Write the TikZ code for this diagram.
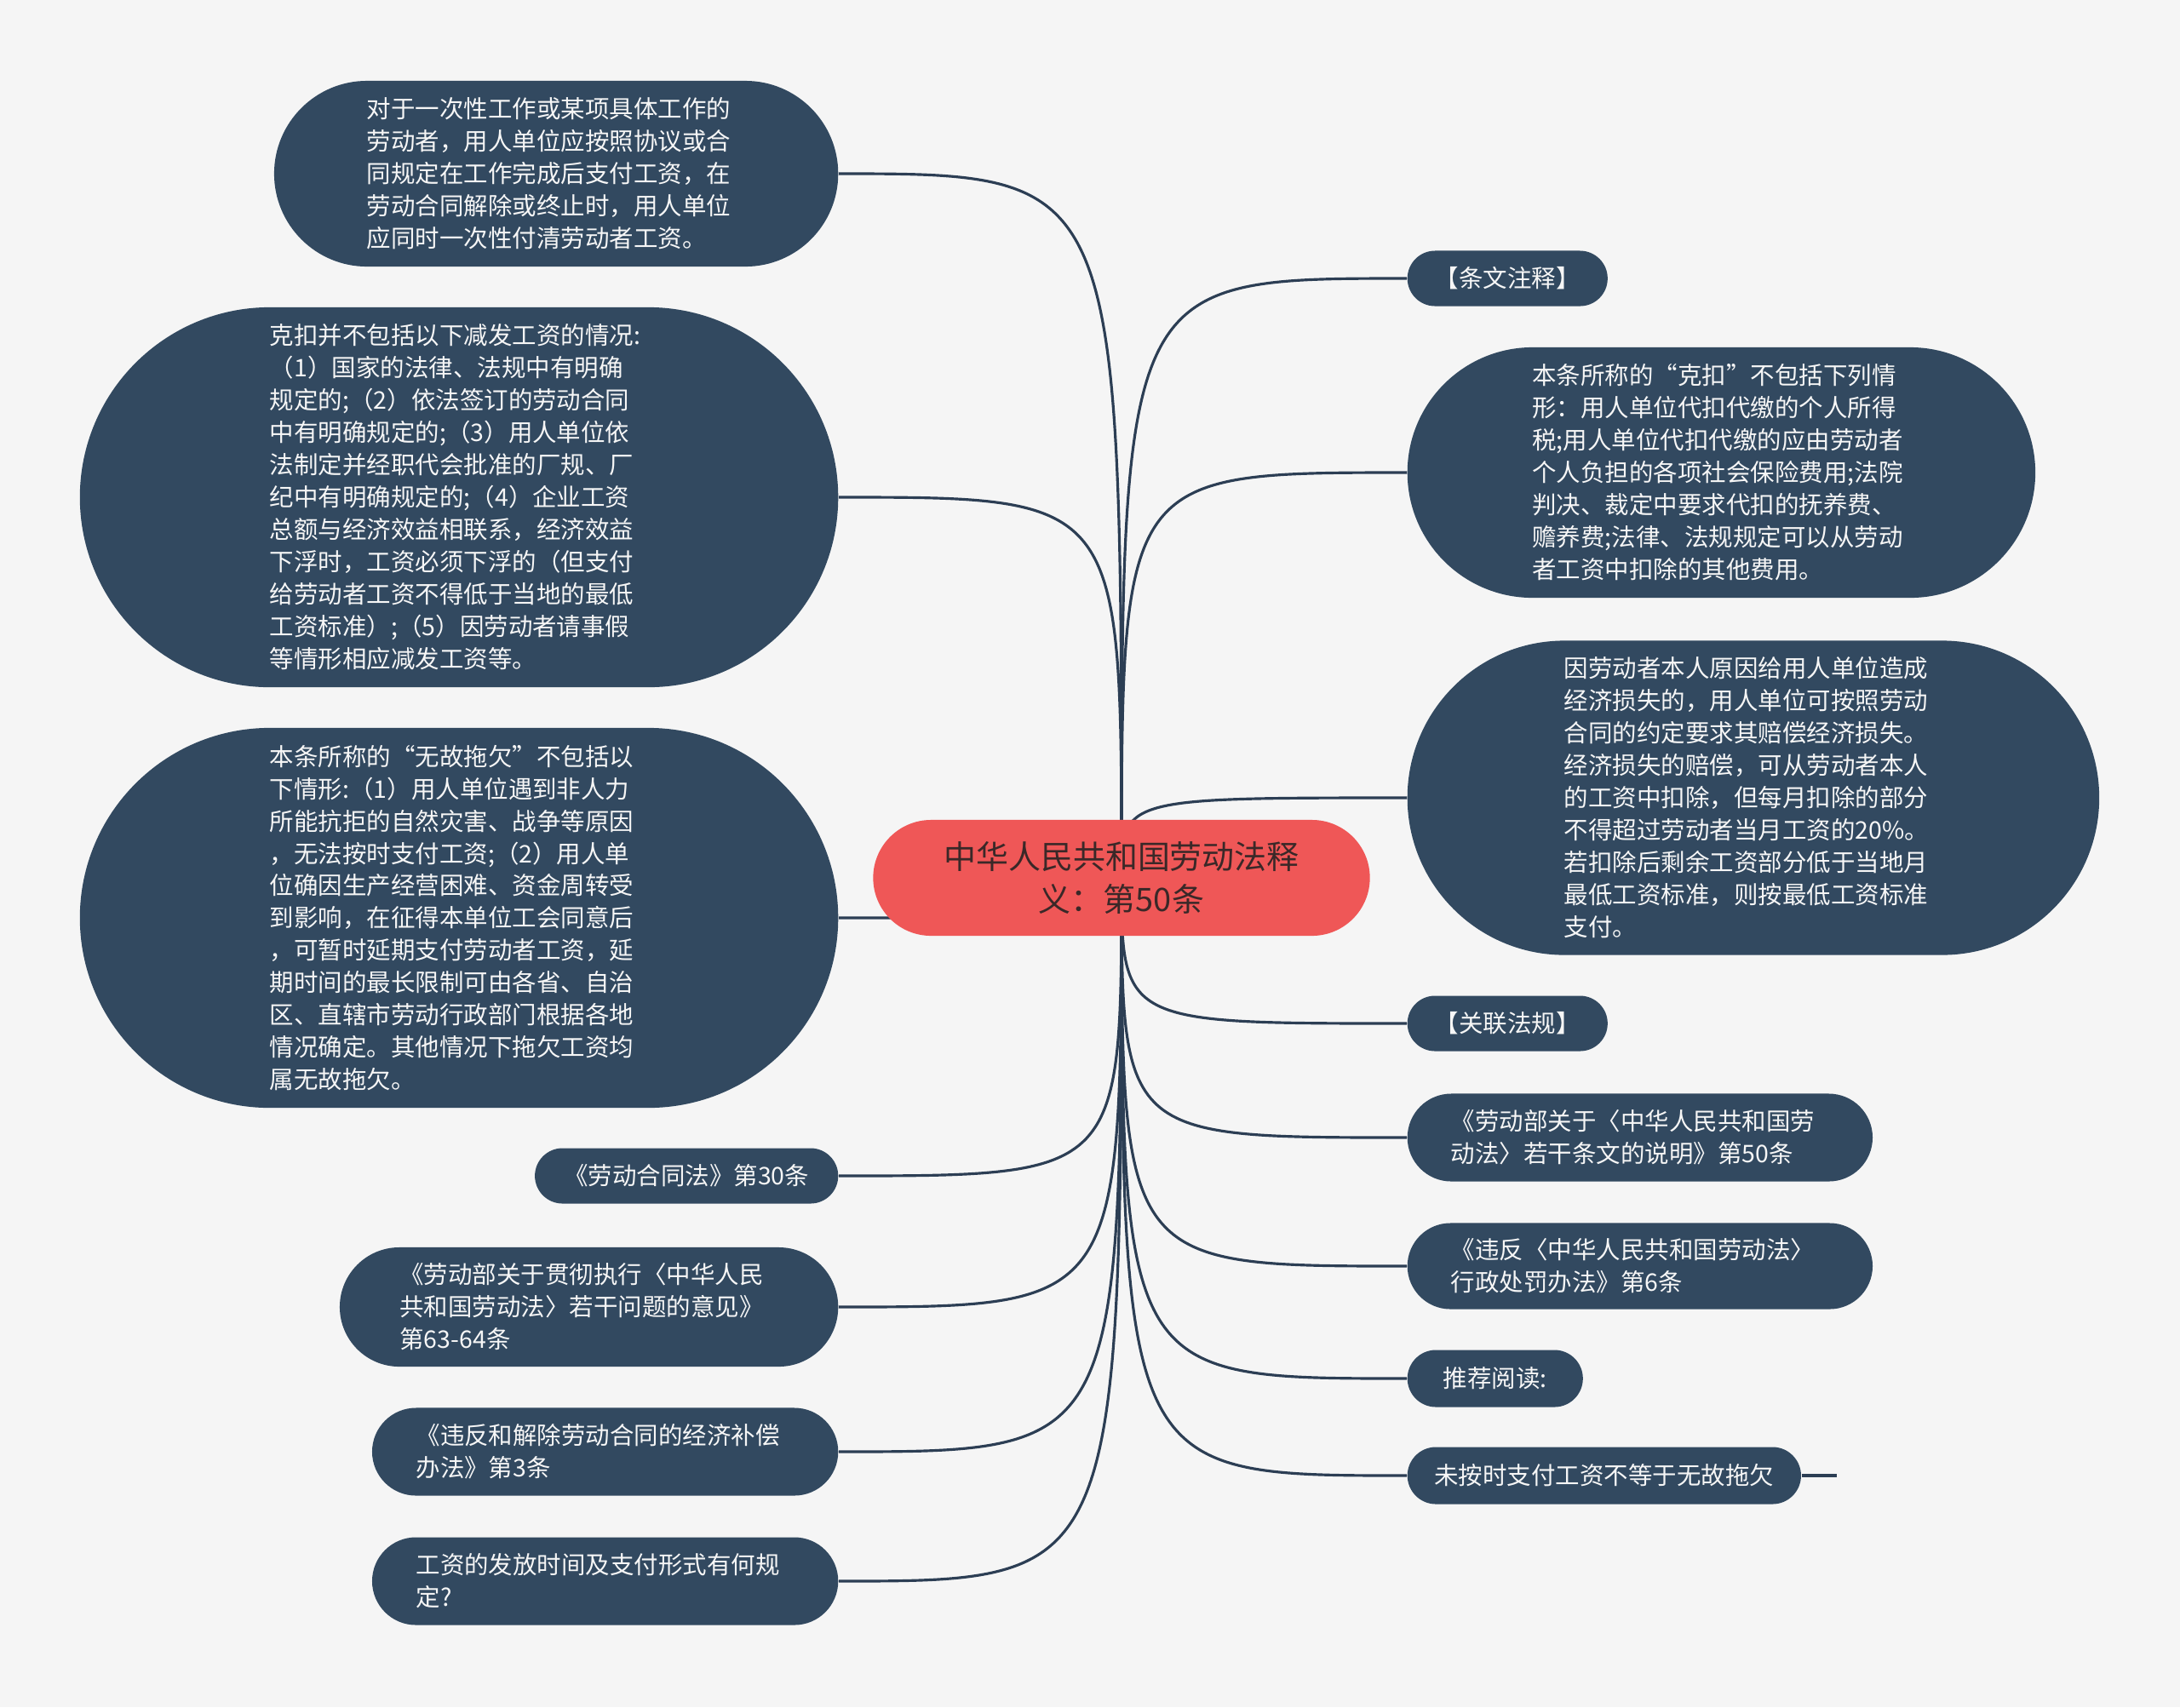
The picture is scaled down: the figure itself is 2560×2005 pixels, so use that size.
\documentclass[tikz,border=0pt]{standalone}
\usepackage{fontspec}
\setmainfont{Noto Sans CJK SC}
\usetikzlibrary{shapes.misc, positioning, backgrounds}

\definecolor{pagegrey}{RGB}{245,245,245}
\definecolor{leafblue}{RGB}{50,73,96}
\definecolor{linkblue}{RGB}{44,62,84}
\definecolor{rootred}{RGB}{239,87,87}
\definecolor{roottext}{RGB}{58,40,40}
\definecolor{leaftext}{RGB}{246,246,246}

\begin{document}
\begin{tikzpicture}[
    x=0.01cm, y=-0.01cm,
    root/.style={rounded rectangle, fill=rootred, text=roottext, minimum height=1.36cm, minimum width=5.83cm, text width=4.47cm, align=center, inner xsep=0pt, inner ysep=0pt, font=\fontsize{10.8pt}{14.4pt}\selectfont},
    leaf/.style={rounded rectangle, fill=leafblue, text=leaftext, inner xsep=0pt, inner ysep=0pt, font=\fontsize{8.1pt}{10.8pt}\selectfont},
    note/.style={leaf, text width=4.44cm, align=left},
    link/.style={draw=linkblue, line width=0.9pt}
]

\useasboundingbox (0,0) rectangle (2560,2005);

% Nodes
\node (root) [root] at (1317,1031) {中华人民共和国劳动法释\\义：第50条};

\node (l1) [note, minimum height=2.18cm, minimum width=6.62cm, anchor=east] at (985,204) {对于一次性工作或某项具体工作的\\劳动者，用人单位应按照协议或合\\同规定在工作完成后支付工资，在\\劳动合同解除或终止时，用人单位\\应同时一次性付清劳动者工资。};
\node (l2) [note, minimum height=4.46cm, minimum width=8.90cm, anchor=east] at (985,584) {克扣并不包括以下减发工资的情况:\\（1）国家的法律、法规中有明确\\规定的;（2）依法签订的劳动合同\\中有明确规定的;（3）用人单位依\\法制定并经职代会批准的厂规、厂\\纪中有明确规定的;（4）企业工资\\总额与经济效益相联系，经济效益\\下浮时，工资必须下浮的（但支付\\给劳动者工资不得低于当地的最低\\工资标准）;（5）因劳动者请事假\\等情形相应减发工资等。};
\node (l3) [note, minimum height=4.46cm, minimum width=8.90cm, anchor=east] at (985,1078) {本条所称的“无故拖欠”不包括以\\下情形:（1）用人单位遇到非人力\\所能抗拒的自然灾害、战争等原因\\，无法按时支付工资;（2）用人单\\位确因生产经营困难、资金周转受\\到影响，在征得本单位工会同意后\\，可暂时延期支付劳动者工资，延\\期时间的最长限制可由各省、自治\\区、直辖市劳动行政部门根据各地\\情况确定。其他情况下拖欠工资均\\属无故拖欠。};
\node (l4) [leaf, minimum height=0.65cm, minimum width=3.56cm, anchor=east] at (985,1381) {《劳动合同法》第30条};
\node (l5) [note, minimum height=1.40cm, minimum width=5.85cm, anchor=east] at (985,1535) {《劳动部关于贯彻执行〈中华人民\\共和国劳动法〉若干问题的意见》\\第63-64条};
\node (l6) [note, minimum height=1.03cm, minimum width=5.47cm, anchor=east] at (985,1705) {《违反和解除劳动合同的经济补偿\\办法》第3条};
\node (l7) [note, minimum height=1.03cm, minimum width=5.47cm, anchor=east] at (985,1857) {工资的发放时间及支付形式有何规\\定?};

\node (r1) [leaf, minimum height=0.65cm, minimum width=2.35cm, anchor=west] at (1652,327) {【条文注释】};
\node (r2) [note, minimum height=2.94cm, minimum width=7.37cm, anchor=west] at (1652,555) {本条所称的“克扣”不包括下列情\\形：用人单位代扣代缴的个人所得\\税;用人单位代扣代缴的应由劳动者\\个人负担的各项社会保险费用;法院\\判决、裁定中要求代扣的抚养费、\\赡养费;法律、法规规定可以从劳动\\者工资中扣除的其他费用。};
\node (r3) [note, minimum height=3.69cm, minimum width=8.12cm, anchor=west] at (1652,937) {因劳动者本人原因给用人单位造成\\经济损失的，用人单位可按照劳动\\合同的约定要求其赔偿经济损失。\\经济损失的赔偿，可从劳动者本人\\的工资中扣除，但每月扣除的部分\\不得超过劳动者当月工资的20\%。\\若扣除后剩余工资部分低于当地月\\最低工资标准，则按最低工资标准\\支付。};
\node (r4) [leaf, minimum height=0.65cm, minimum width=2.35cm, anchor=west] at (1652,1202) {【关联法规】};
\node (r5) [note, minimum height=1.03cm, minimum width=5.46cm, anchor=west] at (1652,1336) {《劳动部关于〈中华人民共和国劳\\动法〉若干条文的说明》第50条};
\node (r6) [note, minimum height=1.01cm, minimum width=5.46cm, anchor=west] at (1652,1487) {《违反〈中华人民共和国劳动法〉\\行政处罚办法》第6条};
\node (r7) [leaf, minimum height=0.67cm, minimum width=2.06cm, anchor=west] at (1652,1619) {推荐阅读:};
\node (r8) [leaf, minimum height=0.67cm, minimum width=4.62cm, anchor=west] at (1652,1733) {未按时支付工资不等于无故拖欠};
\coordinate (r8end) at (2157,1733);

% Connections
\begin{scope}[on background layer]
\fill[pagegrey] (0,0) rectangle (2560,2005);
\draw [link] (root.center) .. controls (root.center |- l1.east) .. (l1.east);
\draw [link] (root.center) .. controls (root.center |- l2.east) .. (l2.east);
\draw [link] (root.center) .. controls (root.center |- l3.east) .. (l3.east);
\draw [link] (root.center) .. controls (root.center |- l4.east) .. (l4.east);
\draw [link] (root.center) .. controls (root.center |- l5.east) .. (l5.east);
\draw [link] (root.center) .. controls (root.center |- l6.east) .. (l6.east);
\draw [link] (root.center) .. controls (root.center |- l7.east) .. (l7.east);
\draw [link] (root.center) .. controls (root.center |- r1.west) .. (r1.west);
\draw [link] (root.center) .. controls (root.center |- r2.west) .. (r2.west);
\draw [link] (root.center) .. controls (root.center |- r3.west) .. (r3.west);
\draw [link] (root.center) .. controls (root.center |- r4.west) .. (r4.west);
\draw [link] (root.center) .. controls (root.center |- r5.west) .. (r5.west);
\draw [link] (root.center) .. controls (root.center |- r6.west) .. (r6.west);
\draw [link] (root.center) .. controls (root.center |- r7.west) .. (r7.west);
\draw [link] (root.center) .. controls (root.center |- r8.west) .. (r8.west);
\draw [link] (r8.east) -- (r8end);
\end{scope}

\end{tikzpicture}
\end{document}
